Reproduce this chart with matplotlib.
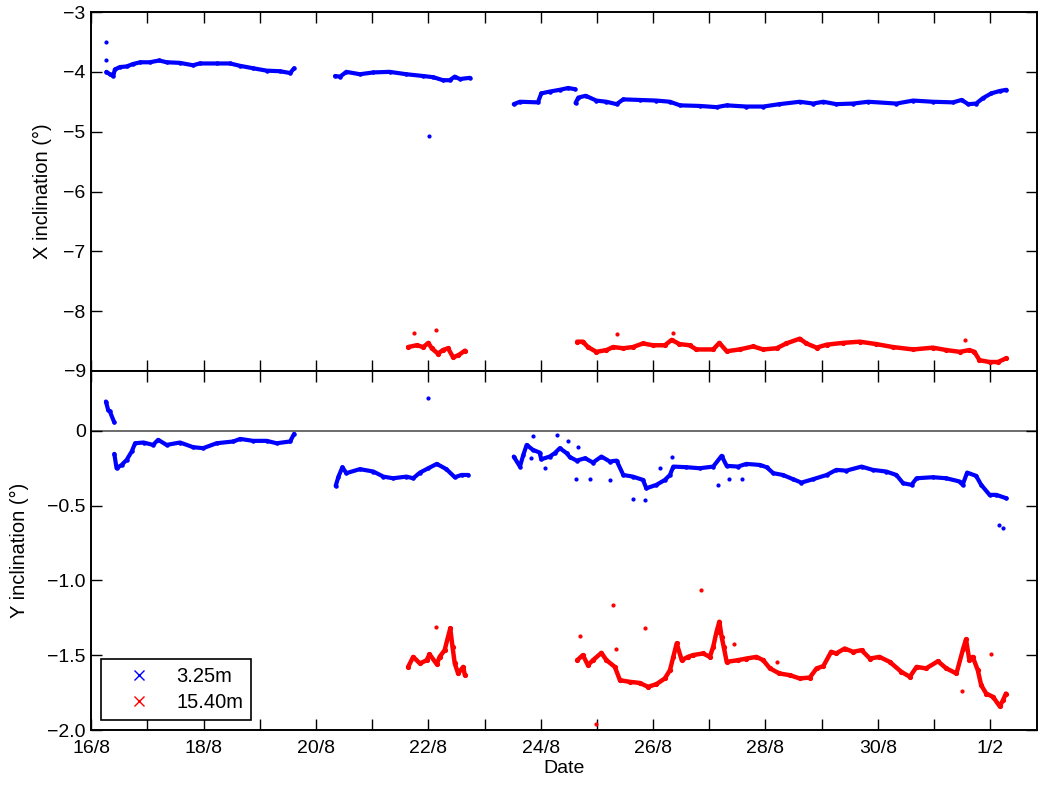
import numpy as np
import matplotlib
matplotlib.use("Agg")
import matplotlib.pyplot as plt
from matplotlib.lines import Line2D

plt.rcParams['font.family'] = ['Liberation Sans', 'DejaVu Sans']
plt.rcParams['axes.unicode_minus'] = True

nan = np.nan
# time in days since 16/8 00:00 ; nan separates data gaps
# ---- X inclination, 3.25 m (blue)
xb_t = [0.27, 0.33, 0.39, 0.42, 0.51, 0.63, 0.74, 0.87, 1.04, 1.21, 1.34, 1.58, 1.81, 1.93, 2.23, 2.47,
        2.65, 2.88, 3.12, 3.36, 3.54, 3.61, nan,
        4.34, 4.43, 4.54, 4.78, 5.02, 5.31, 5.61, 5.91, 6.09, 6.26, 6.38, 6.47, 6.56, 6.74, nan,
        7.52, 7.63, 7.95, 8.01, 8.16, 8.34, 8.49, 8.61, nan,
        8.62, 8.67, 8.80, 8.99, 9.17, 9.35, 9.47, 9.76, 10.06, 10.30, 10.48, 10.83, 11.13, 11.31, 11.66,
        11.96, 12.25, 12.61, 12.85, 13.03, 13.26, 13.56, 13.83, 14.33, 14.63, 14.98, 15.34, 15.49, 15.61,
        15.75, 15.87, 16.02, 16.17, 16.29]
xb_v = [-4.00, -4.04, -4.07, -3.96, -3.92, -3.91, -3.87, -3.84, -3.84, -3.81, -3.84, -3.85, -3.89, -3.86, -3.86, -3.86,
        -3.90, -3.94, -3.98, -3.99, -4.02, -3.94, nan,
        -4.07, -4.08, -4.00, -4.04, -4.01, -4.00, -4.04, -4.07, -4.09, -4.14, -4.14, -4.08, -4.12, -4.10, nan,
        -4.54, -4.50, -4.51, -4.36, -4.33, -4.30, -4.27, -4.29, nan,
        -4.52, -4.43, -4.40, -4.48, -4.50, -4.54, -4.46, -4.47, -4.48, -4.50, -4.56, -4.57, -4.59, -4.56, -4.58,
        -4.58, -4.54, -4.50, -4.53, -4.50, -4.54, -4.53, -4.50, -4.53, -4.48, -4.50, -4.51, -4.47, -4.54,
        -4.53, -4.44, -4.36, -4.32, -4.30]
xb_out_t = [0.26, 0.26, 6.01]
xb_out_v = [-3.50, -3.81, -5.07]

# ---- X inclination, 15.40 m (red)
xr_t = [5.64, 5.79, 5.91, 6.00, 6.06, 6.17, 6.26, 6.35, 6.44, 6.53, 6.65, nan,
        8.65, 8.75, 8.84, 8.99, 9.17, 9.29, 9.47, 9.64, 9.82, 10.00, 10.21, 10.33, 10.47, 10.65, 10.77,
        11.07, 11.18, 11.31, 11.54, 11.78, 11.96, 12.20, 12.37, 12.61, 12.73, 12.91, 13.09, 13.38, 13.68,
        13.97, 14.27, 14.63, 14.98, 15.22, 15.46, 15.63, 15.72, 15.81, 15.99, 16.14, 16.28]
xr_v = [-8.60, -8.57, -8.60, -8.53, -8.62, -8.71, -8.65, -8.62, -8.77, -8.74, -8.66, nan,
        -8.51, -8.51, -8.60, -8.68, -8.65, -8.60, -8.62, -8.60, -8.54, -8.57, -8.57, -8.48, -8.55, -8.57, -8.64,
        -8.64, -8.53, -8.67, -8.64, -8.59, -8.64, -8.62, -8.54, -8.46, -8.54, -8.61, -8.56, -8.53, -8.51,
        -8.55, -8.60, -8.64, -8.61, -8.65, -8.68, -8.65, -8.68, -8.82, -8.85, -8.85, -8.79]
xr_out_t = [5.74, 6.13, 9.35, 10.36, 15.56]
xr_out_v = [-8.36, -8.32, -8.39, -8.36, -8.48]

# ---- Y inclination, 3.25 m (blue)
yb_t = [0.26, 0.30, 0.33, 0.41, nan,
        0.41, 0.45, 0.54, 0.63, 0.72, 0.78, 0.93, 1.10, 1.19, 1.34, 1.58, 1.81, 1.99, 2.23, 2.53, 2.65,
        2.88, 3.12, 3.30, 3.54, 3.61, nan,
        4.35, 4.40, 4.47, 4.54, 4.78, 5.02, 5.20, 5.37, 5.61, 5.73, 5.85, 6.00, 6.15, 6.32, 6.47, 6.59,
        6.71, nan,
        7.52, 7.63, 7.69, 7.75, 7.86, 7.98, 8.01, 8.16, 8.25, 8.34, 8.46, 8.52, 8.64, 8.79, 8.93, 9.08,
        9.23, 9.35, 9.47, 9.64, 9.82, 9.88, 10.06, 10.21, 10.30, 10.36, 10.59, 10.83, 11.07, 11.22, 11.31,
        11.51, 11.66, 11.90, 12.02, 12.14, 12.31, 12.49, 12.64, 12.85, 13.09, 13.26, 13.44, 13.71, 13.91,
        14.15, 14.33, 14.45, 14.60, 14.69, 14.98, 15.22, 15.46, 15.51, 15.59, 15.75, 15.84, 15.99, 16.11,
        16.29]
yb_v = [0.196, 0.14, 0.13, 0.056, nan,
        -0.154, -0.25, -0.228, -0.194, -0.138, -0.083, -0.078, -0.094, -0.060, -0.094, -0.078, -0.109,
        -0.116, -0.083, -0.071, -0.054, -0.067, -0.067, -0.083, -0.071, -0.020, nan,
        -0.368, -0.306, -0.243, -0.283, -0.256, -0.272, -0.306, -0.317, -0.306, -0.317, -0.279, -0.25,
        -0.221, -0.256, -0.31, -0.295, -0.295, nan,
        -0.172, -0.239, -0.161, -0.094, -0.127, -0.145, -0.19, -0.172, -0.149, -0.116, -0.149, -0.176,
        -0.199, -0.183, -0.212, -0.172, -0.205, -0.199, -0.295, -0.306, -0.328, -0.384, -0.361, -0.328,
        -0.295, -0.239, -0.243, -0.25, -0.239, -0.167, -0.234, -0.239, -0.221, -0.228, -0.243, -0.283,
        -0.295, -0.323, -0.346, -0.323, -0.295, -0.261, -0.266, -0.239, -0.261, -0.272, -0.295, -0.35,
        -0.361, -0.317, -0.31, -0.317, -0.339, -0.361, -0.279, -0.301, -0.361, -0.428, -0.428, -0.451]
yb_out_t = [5.99, 7.87, 8.29, 8.49, 8.66, 7.82, 8.07, 8.62, 8.87, 9.24, 9.65, 9.86, 10.12, 10.33,
            11.16, 11.36, 11.58, 16.16, 16.22]
yb_out_v = [0.221, -0.033, -0.029, -0.067, -0.105, -0.179, -0.25, -0.323, -0.319, -0.33, -0.453, -0.464,
            -0.25, -0.174, -0.361, -0.323, -0.323, -0.629, -0.651]

# ---- Y inclination, 15.40 m (red)
yr_t = [5.64, 5.73, 5.85, 5.97, 6.02, 6.15, 6.20, 6.29, 6.35, 6.39, 6.43, 6.47, 6.53, 6.62, 6.65, nan,
        8.65, 8.75, 8.84, 8.93, 9.08, 9.17, 9.32, 9.41, 9.59, 9.76, 9.91, 10.06, 10.21, 10.30, 10.36,
        10.42, 10.51, 10.62, 10.71, 10.89, 11.01, 11.07, 11.13, 11.18, 11.22, 11.26, 11.31, 11.51, 11.66,
        11.84, 11.96, 12.08, 12.25, 12.43, 12.61, 12.79, 12.91, 13.03, 13.17, 13.26, 13.41, 13.56, 13.71,
        13.86, 14.03, 14.21, 14.42, 14.57, 14.69, 14.86, 15.07, 15.22, 15.40, 15.52, 15.57, 15.63, 15.69,
        15.78, 15.84, 15.93, 16.05, 16.17, 16.23, 16.28]
yr_v = [-1.578, -1.511, -1.555, -1.533, -1.493, -1.56, -1.511, -1.466, -1.377, -1.321, -1.444, -1.555,
        -1.622, -1.578, -1.633, nan,
        -1.533, -1.499, -1.566, -1.533, -1.484, -1.533, -1.578, -1.667, -1.678, -1.685, -1.711, -1.693,
        -1.655, -1.600, -1.511, -1.421, -1.533, -1.511, -1.499, -1.488, -1.511, -1.444, -1.343, -1.276,
        -1.377, -1.448, -1.544, -1.533, -1.522, -1.511, -1.533, -1.588, -1.622, -1.633, -1.655, -1.649,
        -1.588, -1.573, -1.477, -1.488, -1.455, -1.477, -1.466, -1.522, -1.511, -1.544, -1.611, -1.644,
        -1.578, -1.588, -1.540, -1.588, -1.622, -1.455, -1.394, -1.533, -1.511, -1.600, -1.700, -1.756,
        -1.778, -1.841, -1.800, -1.756]
yr_out_t = [6.13, 8.70, 9.28, 9.34, 9.86, 8.98, 10.86, 11.44, 12.20, 15.49, 16.01]
yr_out_v = [-1.31, -1.372, -1.165, -1.455, -1.321, -1.957, -1.064, -1.428, -1.544, -1.738, -1.495]

series_names = ['3.25m', '15.40m']
tick_days = list(range(0, 17))
tick_labels = ['16/8', '', '18/8', '', '20/8', '', '22/8', '', '24/8', '', '26/8', '', '28/8', '',
               '30/8', '', '1/2']
x_yticks = [-9, -8, -7, -6, -5, -4, -3]
x_yticklabels = ['\u22129', '\u22128', '\u22127', '\u22126', '\u22125', '\u22124', '\u22123']
y_yticks = [-2.0, -1.5, -1.0, -0.5, 0.0]
y_yticklabels = ['\u22122.0', '\u22121.5', '\u22121.0', '\u22120.5', '0']

BLUE = '#0000ff'
RED = '#ff0000'
FS = 14
FS_YLAB = 14.5

fig = plt.figure(figsize=(10.42, 7.85), dpi=100)
ax1 = fig.add_axes([0.0876, 0.5274, 0.9074, 0.4573])
ax2 = fig.add_axes([0.0876, 0.0700, 0.9074, 0.4574])

def draw(ax, t, v, ot, ov, color, lw, ms):
    ax.plot(t, v, '-', color=color, lw=lw, solid_capstyle='round', solid_joinstyle='round')
    ax.plot(t, v, '.', color=color, ms=ms)
    ax.plot(ot, ov, '.', color=color, ms=4, ls='none')

draw(ax1, xb_t, xb_v, xb_out_t, xb_out_v, BLUE, 3.0, 4.5)
draw(ax1, xr_t, xr_v, xr_out_t, xr_out_v, RED, 3.2, 5.5)
ax2.axhline(0, color='#606060', lw=1.3, zorder=0)
draw(ax2, yb_t, yb_v, yb_out_t, yb_out_v, BLUE, 3.0, 4.5)
draw(ax2, yr_t, yr_v, yr_out_t, yr_out_v, RED, 3.2, 5.5)

for ax in (ax1, ax2):
    ax.set_xlim(0, 16.83)
    ax.set_xticks(tick_days)
    ax.tick_params(direction='in', length=8, width=1, top=True, right=True, labelsize=FS)
    ax.tick_params(axis='x', pad=7)
    ax.tick_params(axis='y', pad=4)
    for s in ax.spines.values():
        s.set_linewidth(1.4)

ax1.set_xticklabels([])
ax1.set_ylim(-9, -3)
ax1.set_yticks(x_yticks)
ax1.set_yticklabels(x_yticklabels)
ax1.set_ylabel('X inclination (\u00b0)', fontsize=FS_YLAB)

ax2.set_ylim(-2.0, 0.4)
ax2.set_yticks(y_yticks)
ax2.set_yticklabels(y_yticklabels)
ax2.set_xticklabels(tick_labels)
ax2.set_ylabel('Y inclination (\u00b0)', fontsize=FS_YLAB)
ax2.set_xlabel('Date', fontsize=FS, labelpad=2)
ax1.yaxis.set_label_coords(-0.0414, 0.5)
ax2.yaxis.set_label_coords(-0.066, 0.5)

handles = [Line2D([], [], color=BLUE, marker='x', ls='none', ms=7, mew=1),
           Line2D([], [], color=RED, marker='x', ls='none', ms=7, mew=1)]
leg = ax2.legend(handles, series_names, loc='lower left', bbox_to_anchor=(0.0099, 0.028),
                 borderaxespad=0, fontsize=14.5, frameon=True, fancybox=False,
                 handletextpad=0.35, borderpad=0.4, labelspacing=0.35, handlelength=3.0)
leg.get_frame().set_edgecolor('black')
leg.get_frame().set_linewidth(1.2)
leg.get_frame().set_alpha(1)

fig.savefig('out.png', dpi=100)
